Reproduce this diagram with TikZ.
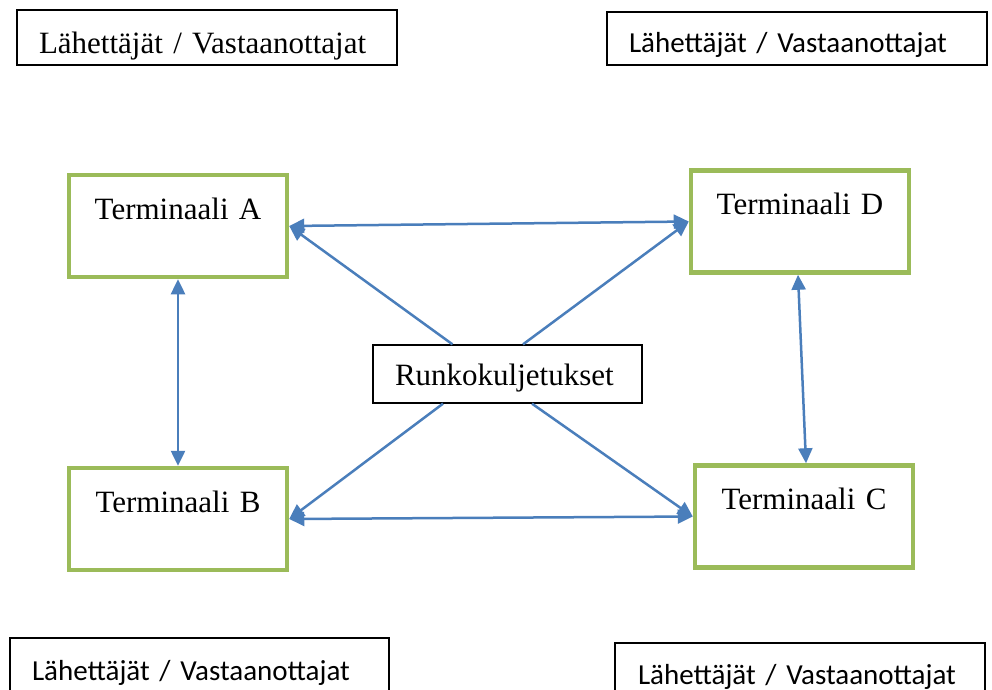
\documentclass[tikz,border=0pt]{standalone}
\usepackage{fontspec}
\setmainfont{Liberation Serif}
\newfontfamily\calfont{Carlito}
\usetikzlibrary{arrows.meta}
\definecolor{termgreen}{HTML}{9BBB59}
\definecolor{linkblue}{HTML}{4A7EBB}
\tikzset{
  serifbig/.style={font=\fontsize{31}{31}\selectfont},
  sansbig/.style={font=\calfont\fontsize{29}{29}\selectfont},
  termbox/.style={draw=termgreen, line width=4.5pt, fill=white, inner sep=0pt,
    text width=218pt, align=center, text height=44pt, text depth=58pt, serifbig},
  plainbox/.style={draw=black, line width=1.3pt, fill=white, inner ysep=0pt,
    inner xsep=22pt, align=left},
  tiphead/.tip={Triangle[length=15pt,width=14pt]},
  biarrow/.style={draw=linkblue, line width=2.5pt, tiphead-tiphead},
  oneway/.style={draw=linkblue, line width=2.5pt, -tiphead},
}
\begin{document}
\begin{tikzpicture}[x=1pt,y=-1pt]
\clip (0,0) rectangle (992,689);
\fill[white] (0,0) rectangle (992,689);

% sender / receiver boxes
\node[plainbox, serifbig, text width=336pt, text height=43pt, text depth=12pt] (tl) at (207,37.5) {Lähettäjät / Vastaanottajat};
\node[plainbox, sansbig, text width=336pt, text height=40pt, text depth=13pt] (tr) at (797,38.5) {Lähettäjät / Vastaanottajat};
\node[plainbox, sansbig, text width=335pt, text height=42pt, text depth=40pt] (bl) at (199.5,679) {Lähettäjät / Vastaanottajat};
\node[plainbox, sansbig, inner xsep=23pt, text width=324pt, text height=41pt, text depth=40pt] (br) at (800,683.5) {Lähettäjät / Vastaanottajat};

% terminals
\node[termbox] (A) at (178,226) {Terminaali A};
\node[termbox] (D) at (800,221.5) {Terminaali D};
\node[termbox] (B) at (178,519) {Terminaali B};
\node[termbox] (C) at (804,516.5) {Terminaali C};

% centre
\node[plainbox, serifbig, text width=225pt, text height=40pt, text depth=18pt] (R) at (507.5,374) {Runkokuljetukset};

% connectors
\draw[biarrow] (A.east) -- (D.west);
\draw[biarrow] (B.east) -- (C.west);
\draw[biarrow] (A.south) -- (B.north);
\draw[biarrow] ([xshift=-2pt]D.south) -- ([xshift=2pt]C.north);
\draw[oneway] ([xshift=-55pt]R.north) -- (A.east);
\draw[oneway] ([xshift=15.5pt]R.north) -- (D.west);
\draw[oneway] ([xshift=-64.5pt]R.south) -- (B.east);
\draw[oneway] ([xshift=24.5pt]R.south) -- (C.west);
\end{tikzpicture}
\end{document}
